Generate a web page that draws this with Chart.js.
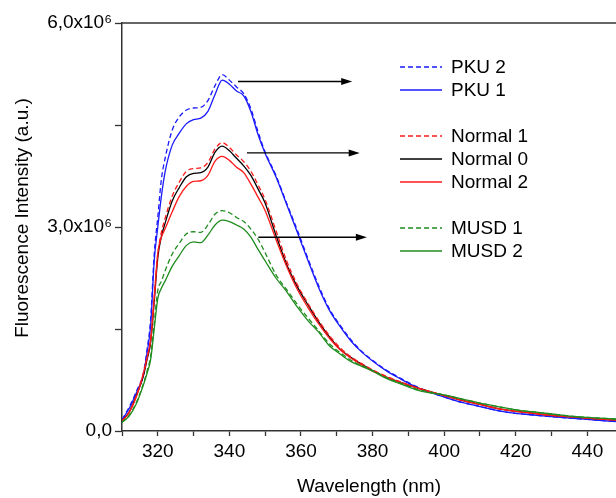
<!DOCTYPE html>
<html>
<head>
<meta charset="utf-8">
<script src="https://cdn.jsdelivr.net/npm/chart.js@4.4.0/dist/chart.umd.min.js"></script>
<style>
  html, body { margin: 0; padding: 0; background: #fff; }
  #wrap { width: 616px; height: 498px; }
</style>
</head>
<body>
<div id="wrap"><canvas id="spectra"></canvas></div>
<script>
// Wavelength grid (nm)
const wavelengths = [310, 312, 314, 316, 317, 318, 319, 320, 321, 322, 324, 326, 328, 330, 332, 334, 336, 338, 340, 342, 344, 346, 348, 350, 353, 356, 359, 362, 365, 368, 371, 374, 377, 380, 384, 388, 392, 396, 400, 405, 410, 415, 420, 425, 430, 435, 440, 445, 448];

// Intensities, in units of 10^6 a.u.
const pku2 = [0.17, 0.35, 0.58, 0.86, 1.2, 1.65, 2.6, 3.15, 3.7, 4.0, 4.42, 4.62, 4.72, 4.75, 4.76, 4.86, 5.08, 5.24, 5.16, 5.06, 4.96, 4.74, 4.4, 4.1, 3.76, 3.35, 2.95, 2.53, 2.13, 1.79, 1.55, 1.34, 1.17, 1.04, 0.89, 0.77, 0.66, 0.57, 0.5, 0.42, 0.36, 0.3, 0.26, 0.235, 0.21, 0.19, 0.17, 0.15, 0.14];
const pku1 = [0.16, 0.33, 0.56, 0.82, 1.15, 1.55, 2.5, 3.0, 3.45, 3.8, 4.2, 4.38, 4.52, 4.58, 4.6, 4.7, 4.95, 5.16, 5.1, 5.0, 4.93, 4.7, 4.36, 4.08, 3.74, 3.33, 2.92, 2.5, 2.1, 1.77, 1.53, 1.32, 1.16, 1.03, 0.88, 0.76, 0.65, 0.57, 0.5, 0.42, 0.36, 0.3, 0.26, 0.235, 0.21, 0.19, 0.17, 0.15, 0.14];
const normal1 = [0.15, 0.28, 0.52, 0.85, 1.08, 1.35, 1.95, 2.6, 2.92, 3.12, 3.45, 3.66, 3.82, 3.86, 3.87, 3.95, 4.15, 4.24, 4.17, 4.06, 3.96, 3.82, 3.62, 3.4, 2.95, 2.5, 2.15, 1.87, 1.62, 1.4, 1.22, 1.09, 0.99, 0.9, 0.8, 0.72, 0.64, 0.58, 0.52, 0.45, 0.39, 0.33, 0.29, 0.26, 0.23, 0.21, 0.19, 0.17, 0.16];
const normal0 = [0.15, 0.28, 0.52, 0.82, 1.05, 1.3, 1.9, 2.55, 2.86, 3.05, 3.38, 3.58, 3.74, 3.79, 3.8, 3.88, 4.1, 4.19, 4.12, 4.01, 3.9, 3.76, 3.56, 3.35, 2.88, 2.45, 2.12, 1.85, 1.6, 1.38, 1.2, 1.08, 0.98, 0.89, 0.79, 0.71, 0.64, 0.58, 0.52, 0.45, 0.39, 0.33, 0.29, 0.26, 0.23, 0.21, 0.19, 0.17, 0.16];
const normal2 = [0.14, 0.27, 0.5, 0.85, 1.08, 1.34, 1.97, 2.62, 2.85, 2.97, 3.22, 3.45, 3.6, 3.67, 3.68, 3.76, 3.97, 4.04, 3.98, 3.88, 3.8, 3.63, 3.44, 3.24, 2.82, 2.42, 2.08, 1.81, 1.57, 1.36, 1.19, 1.07, 0.97, 0.88, 0.79, 0.71, 0.64, 0.58, 0.52, 0.45, 0.39, 0.33, 0.29, 0.26, 0.23, 0.21, 0.19, 0.17, 0.16];
const musd1 = [0.13, 0.23, 0.42, 0.7, 0.88, 1.1, 1.58, 2.07, 2.2, 2.35, 2.6, 2.76, 2.9, 2.93, 2.92, 3.03, 3.19, 3.24, 3.21, 3.14, 3.08, 2.97, 2.82, 2.62, 2.3, 2.08, 1.86, 1.66, 1.47, 1.28, 1.15, 1.04, 0.96, 0.89, 0.78, 0.7, 0.62, 0.57, 0.53, 0.47, 0.41, 0.36, 0.31, 0.28, 0.25, 0.22, 0.2, 0.185, 0.176];
const musd2 = [0.13, 0.22, 0.4, 0.68, 0.85, 1.05, 1.5, 1.95, 2.1, 2.2, 2.42, 2.58, 2.73, 2.78, 2.77, 2.88, 3.03, 3.1, 3.08, 3.03, 2.97, 2.85, 2.67, 2.5, 2.25, 2.05, 1.82, 1.62, 1.45, 1.25, 1.13, 1.02, 0.95, 0.88, 0.77, 0.69, 0.61, 0.56, 0.53, 0.47, 0.41, 0.36, 0.31, 0.28, 0.25, 0.22, 0.2, 0.185, 0.176];

// Tick positions: x every 10 nm (labels every 20), y every 1.5 (labels 0, 3, 6)
const xTicks = [310, 320, 330, 340, 350, 360, 370, 380, 390, 400, 410, 420, 430, 440];
const yTicks = [0, 1.5, 3, 4.5, 6];
const yTickLabels = { 0: '0,0', 3: '3,0x10\u2076', 6: '6,0x10\u2076' };

// Labels, in legend order (null = blank row)
const legendOrder = ['PKU 2', 'PKU 1', null, 'Normal 1', 'Normal 0', 'Normal 2', null, 'MUSD 1', 'MUSD 2'];

// Red-shift arrows (data units): start nm, end nm, level
const arrowFrom = [342.4, 344.9, 348.1];
const arrowTo = [374.3, 376.4, 378.4];
const arrowAt = [5.14, 4.09, 2.85];

const BLUE = '#1a1aff';
const RED = '#ff1a1a';
const GREEN = '#1e8c1e';
const DASH = [5, 3];

function series(label, values, color, dashed) {
    return {
        label: label,
        data: wavelengths.map((w, i) => ({ x: w, y: values[i] })),
        borderColor: color,
        borderWidth: 1.3,
        borderDash: dashed ? DASH : [],
        pointRadius: 0,
        cubicInterpolationMode: 'monotone',
        fill: false
    };
}

const datasets = [
    series('MUSD 2', musd2, GREEN, false),
    series('MUSD 1', musd1, GREEN, true),
    series('Normal 2', normal2, RED, false),
    series('Normal 1', normal1, RED, true),
    series('Normal 0', normal0, '#000000', false),
    series('PKU 1', pku1, BLUE, false),
    series('PKU 2', pku2, BLUE, true)
];

const FONT = { family: 'Arial, "Liberation Sans", sans-serif', size: 19 };

// Top frame line, y title, arrows, legend
const decorPlugin = {
    id: 'decor',
    afterDatasetsDraw(chart) {
        const ctx = chart.ctx;
        const area = chart.chartArea;
        const xs = chart.scales.x;
        const ys = chart.scales.y;
        ctx.save();

        // top frame
        ctx.strokeStyle = '#333';
        ctx.lineWidth = 1.5;
        ctx.beginPath();
        ctx.moveTo(area.left, area.top);
        ctx.lineTo(area.right, area.top);
        ctx.stroke();

        // y axis title
        ctx.font = FONT.size + 'px ' + FONT.family;
        ctx.fillStyle = '#000';
        ctx.save();
        ctx.translate(23, 218);
        ctx.rotate(-Math.PI / 2);
        ctx.textAlign = 'center';
        ctx.textBaseline = 'middle';
        ctx.fillText('Fluorescence Intensity (a.u.)', 0, 0);
        ctx.restore();

        // arrows
        ctx.strokeStyle = '#000';
        ctx.fillStyle = '#000';
        ctx.lineWidth = 1.4;
        for (let i = 0; i < arrowAt.length; i++) {
            const x0 = xs.getPixelForValue(arrowFrom[i]);
            const x1 = xs.getPixelForValue(arrowTo[i]);
            const y = ys.getPixelForValue(arrowAt[i]);
            ctx.beginPath();
            ctx.moveTo(x0, y);
            ctx.lineTo(x1 - 8, y);
            ctx.stroke();
            ctx.beginPath();
            ctx.moveTo(x1, y);
            ctx.lineTo(x1 - 11, y - 3.5);
            ctx.lineTo(x1 - 11, y + 3.5);
            ctx.closePath();
            ctx.fill();
        }

        // legend
        ctx.textBaseline = 'middle';
        ctx.textAlign = 'left';
        legendOrder.forEach((name, row) => {
            if (!name) return;
            const ds = chart.data.datasets.find(d => d.label === name);
            const y = 67 + row * 23;
            ctx.strokeStyle = ds.borderColor;
            ctx.lineWidth = 1.3;
            ctx.setLineDash(ds.borderDash);
            ctx.beginPath();
            ctx.moveTo(400, y);
            ctx.lineTo(442, y);
            ctx.stroke();
            ctx.setLineDash([]);
            ctx.fillStyle = '#000';
            ctx.fillText(name, 451, y + 1);
        });
        ctx.restore();
    }
};

new Chart(document.getElementById('spectra'), {
    type: 'line',
    data: { datasets: datasets },
    options: {
        responsive: true,
        maintainAspectRatio: false,
        animation: false,
        layout: { padding: { top: 23, right: 0, left: 0, bottom: 0 } },
        plugins: {
            legend: { display: false },
            tooltip: { enabled: false }
        },
        scales: {
            x: {
                type: 'linear',
                min: 310,
                max: 448,
                afterBuildTicks: (scale) => {
                    scale.ticks = xTicks.map(v => ({ value: v }));
                },
                afterFit: (scale) => { scale.height = 67; },
                ticks: {
                    autoSkip: false,
                    maxRotation: 0,
                    padding: 4,
                    color: '#000',
                    font: FONT,
                    callback: (v) => (v % 20 === 0 ? String(v) : '')
                },
                grid: {
                    drawOnChartArea: false,
                    tickLength: 5,
                    tickColor: '#333',
                    tickWidth: 1.3
                },
                border: { color: '#333', width: 1.5 },
                title: {
                    display: true,
                    text: 'Wavelength (nm)',
                    color: '#000',
                    font: FONT,
                    padding: { top: 6, bottom: 0 }
                }
            },
            y: {
                min: 0,
                max: 6,
                afterBuildTicks: (scale) => {
                    scale.ticks = yTicks.map(v => ({ value: v }));
                },
                afterFit: (scale) => { scale.width = 122; },
                ticks: {
                    padding: 3,
                    color: '#000',
                    font: FONT,
                    callback: (v) => yTickLabels[v] || ''
                },
                grid: {
                    drawOnChartArea: false,
                    tickLength: 7,
                    tickColor: '#333',
                    tickWidth: 1.3
                },
                border: { color: '#333', width: 1.5 }
            }
        }
    },
    plugins: [decorPlugin]
});
</script>
</body>
</html>
